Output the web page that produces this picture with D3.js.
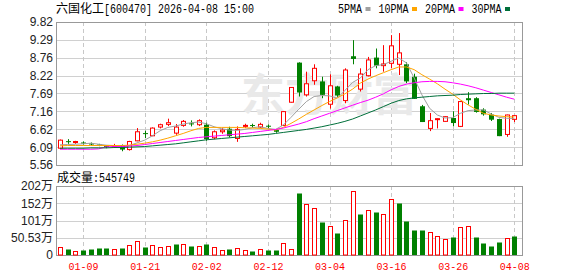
<!DOCTYPE html>
<html>
<head>
<meta charset="utf-8">
<script src="https://cdn.jsdelivr.net/npm/d3@7/dist/d3.min.js"></script>
<style>
  body { margin: 0; background: #fff; }
  svg text { font-family: "Liberation Sans", Arial, "Noto Sans CJK SC", sans-serif; }
</style>
</head>
<body>
<svg id="chart" width="578" height="276"></svg>
<script>

// daily data, 600470

var dates = ["01-06","01-07","01-08","01-09","01-12","01-13","01-14","01-15","01-16","01-19",
             "01-20","01-21","01-22","01-23","01-26","01-27","01-28","01-29","01-30","02-02",
             "02-03","02-04","02-05","02-06","02-09","02-10","02-11","02-12","02-13","02-24",
             "02-25","02-26","02-27","03-02","03-03","03-04","03-05","03-06","03-09","03-10",
             "03-11","03-12","03-13","03-16","03-17","03-18","03-19","03-20","03-23","03-24",
             "03-25","03-26","03-27","03-30","03-31","04-01","04-02","04-03","04-07","04-08"];

var open  = [6.06,6.27,6.23,6.23,6.20,6.17,6.13,6.11,6.15,6.02,
             6.28,6.51,6.43,6.69,6.77,6.51,6.74,6.80,6.76,6.76,
             6.37,6.55,6.64,6.35,6.72,6.75,6.69,6.73,6.60,6.74,
             7.43,8.61,7.65,8.07,8.05,7.37,7.90,7.48,8.80,7.82,
             8.22,8.76,8.52,8.59,8.56,8.56,8.19,7.31,6.65,6.91,
             6.86,6.96,6.71,7.55,7.55,7.21,7.06,6.93,6.47,6.92];

var high  = [6.32,6.33,6.28,6.26,6.23,6.19,6.15,6.19,6.17,6.28,
             6.66,6.58,6.68,6.79,6.94,6.78,6.90,6.89,6.92,6.82,
             6.59,6.66,6.70,6.71,6.79,6.79,6.82,6.77,6.62,7.17,
             7.88,8.62,8.34,8.56,8.19,8.26,7.92,8.44,9.28,8.44,
             8.78,9.03,9.13,9.43,9.49,8.62,8.28,7.35,7.11,6.95,
             7.01,7.16,7.47,7.73,7.58,7.25,7.11,6.94,7.06,7.05];

var low   = [6.04,6.19,6.19,6.17,6.15,6.12,6.06,6.08,5.97,5.99,
             6.27,6.36,6.42,6.65,6.72,6.46,6.70,6.71,6.72,6.28,
             6.33,6.49,6.38,6.25,6.66,6.67,6.66,6.66,6.52,6.72,
             7.42,7.60,7.60,7.95,7.55,7.24,7.59,7.40,8.56,7.75,
             8.20,8.44,8.34,8.44,8.24,8.00,7.53,6.84,6.57,6.65,
             6.85,6.71,6.69,7.36,7.12,7.03,6.87,6.42,6.40,6.84];

var close = [6.30,6.25,6.26,6.21,6.18,6.15,6.10,6.13,6.02,6.26,
             6.55,6.49,6.66,6.76,6.82,6.69,6.86,6.77,6.88,6.33,
             6.55,6.60,6.42,6.62,6.74,6.73,6.77,6.71,6.55,7.15,
             7.87,7.72,7.98,8.44,7.65,7.92,7.63,8.39,8.72,8.27,
             8.69,8.52,8.57,9.11,8.90,8.05,7.53,6.84,6.88,6.94,
             7.00,6.81,7.45,7.49,7.14,7.07,6.91,6.42,7.05,7.03];

// volume in 万 (10k)

var volume = [22.5,17.6,11.7,14.6,17.6,20.5,20.5,17.6,20.5,28.3,
              41.0,23.4,28.3,23.4,25.4,32.2,32.2,26.4,26.4,32.2,
              22.5,14.6,17.6,19.5,14.6,11.7,17.6,14.6,14.6,34.2,
              16.6,181.7,149.4,136.7,96.7,84.0,65.4,101.6,186.5,121.1,
              130.9,126.0,120.1,163.1,152.4,99.6,73.3,73.3,67.4,55.7,
              45.9,52.7,81.1,84.0,52.7,35.2,26.4,38.1,48.8,54.5749];

// moving averages as drawn

var ma5  = [6.16,6.17,6.18,6.19,6.21,6.18,6.15,6.14,6.12,6.14,
            6.22,6.30,6.43,6.58,6.68,6.72,6.78,6.82,6.84,6.79,
            6.70,6.64,6.60,6.59,6.62,6.67,6.70,6.65,6.62,6.75,
            6.98,7.22,7.45,7.60,7.63,7.62,7.55,7.78,8.02,8.15,
            8.40,8.52,8.55,8.65,8.75,8.60,8.15,7.65,7.25,7.05,
            6.96,6.97,7.10,7.18,7.20,7.20,7.08,6.98,6.95,6.95];

var ma10 = [6.13,6.14,6.14,6.14,6.14,6.14,6.14,6.14,6.14,6.15,
            6.18,6.21,6.25,6.30,6.36,6.43,6.50,6.58,6.65,6.68,
            6.68,6.68,6.68,6.68,6.67,6.66,6.65,6.63,6.60,6.68,
            6.80,6.93,7.07,7.20,7.33,7.45,7.56,7.68,7.82,8.00,
            8.12,8.22,8.31,8.40,8.48,8.48,8.40,8.25,8.12,7.98,
            7.82,7.67,7.50,7.35,7.22,7.10,7.05,7.02,7.00,6.99];

var ma20 = [6.03,6.03,6.03,6.03,6.03,6.04,6.10,6.11,6.11,6.12,
            6.14,6.17,6.20,6.23,6.26,6.29,6.32,6.35,6.38,6.40,
            6.42,6.44,6.46,6.48,6.50,6.53,6.56,6.59,6.62,6.66,
            6.72,6.78,6.85,6.94,7.02,7.10,7.18,7.26,7.34,7.42,
            7.49,7.58,7.68,7.80,7.90,7.97,8.01,8.04,8.05,8.05,
            8.04,8.01,7.97,7.92,7.86,7.79,7.72,7.65,7.58,7.52];

var ma30 = [6.06,6.06,6.06,6.06,6.07,6.07,6.07,6.08,6.08,6.09,
            6.10,6.11,6.13,6.15,6.17,6.19,6.22,6.25,6.28,6.31,
            6.33,6.35,6.37,6.39,6.41,6.43,6.45,6.47,6.50,6.53,
            6.56,6.59,6.62,6.66,6.70,6.75,6.80,6.86,6.93,7.02,
            7.11,7.20,7.30,7.40,7.48,7.53,7.56,7.58,7.60,7.62,
            7.63,7.64,7.66,7.67,7.68,7.69,7.69,7.70,7.70,7.70];

// axis ticks

var priceTicks = [5.56,6.09,6.62,7.16,7.69,8.22,8.76,9.29,9.82];
var volTicks   = [0,50.53,101.06,151.59,202.12];
var volLabels  = ["0","50.53万","101万","152万","202万"];
var dateTicks  = ["01-09","01-21","02-02","02-12","03-04","03-16","03-26","04-08"];

var maNames  = ["5PMA","10PMA","20PMA","30PMA"];
var maColors = ["#a0a0a0","#ffa500","#ff00ff","#006f3a"];

// globals

var left = 56, right = 522;
var red = "#ff0000", green = "#008000";
var mono = "\"Liberation Mono\", \"DejaVu Sans Mono\", monospace";
var cjk = "\"Noto Sans CJK SC\", sans-serif";

var svg = d3.select("#chart");

var x = d3.scalePoint().domain(dates).range([60, 514.3]);
var yPrice = d3.scaleLinear().domain([5.56, 9.82]).range([165, 22]);
var yVol = d3.scaleLinear().domain([0, 202.12]).range([255, 186]);

function px(d) { return Math.round(x(d)) + 0.5; }

// panels: grid + frame

drawPanel(yPrice, priceTicks, d3.format(".2f"), 22, 165);
drawPanel(yVol, volTicks, function (d, i) { return volLabels[i]; }, 186, 255);

function drawPanel(y, ticks, fmt, top, bottom)
{
  // horizontal grid

  svg.append("g")
    .selectAll("line")
    .data(ticks)
    .enter()
    .append("line")
    .attr("x1", left).attr("x2", right)
    .attr("y1", function (d) { return Math.round(y(d)) + 0.5; })
    .attr("y2", function (d) { return Math.round(y(d)) + 0.5; })
    .attr("stroke", "#d0d0d0");

  // vertical dashed grid

  svg.append("g")
    .selectAll("line")
    .data(dateTicks)
    .enter()
    .append("line")
    .attr("x1", px).attr("x2", px)
    .attr("y1", top).attr("y2", bottom)
    .attr("stroke", "#c8c8c8")
    .attr("stroke-dasharray", "4,3");

  // frame

  svg.append("rect")
    .attr("x", left + 0.5).attr("y", top + 0.5)
    .attr("width", right - left).attr("height", bottom - top)
    .attr("fill", "none")
    .attr("stroke", "#999");

  // labels

  var axis = svg.append("g")
    .attr("transform", "translate(" + left + ",0)")
    .call(d3.axisLeft(y).tickValues(ticks).tickFormat(fmt).tickSize(0).tickPadding(3));

  axis.select(".domain").remove();
  axis.selectAll("text")
    .attr("fill", "#222")
    .style("font-size", "12px")
    .style("font-family", "\"Liberation Sans\", Arial, \"Noto Sans CJK SC\", sans-serif");
}

// watermark

svg.append("text")
  .attr("x", 241).attr("y", 111)
  .attr("fill", "#e9e9e9")
  .style("font-family", cjk)
  .style("font-weight", "bold")
  .style("font-size", "44px")
  .text("东方财富");

// candles

var candle = svg.append("g")
  .selectAll("g")
  .data(dates)
  .enter()
  .append("g");

candle.append("line")
  .attr("x1", px).attr("x2", px)
  .attr("y1", function (d, i) { return yPrice(high[i]); })
  .attr("y2", function (d, i) { return yPrice(low[i]); })
  .attr("stroke", function (d, i) { return close[i] >= open[i] ? red : green; });

candle.append("rect")
  .attr("x", function (d, i) { return close[i] >= open[i] ? px(d) - 2 : px(d) - 2.5; })
  .attr("width", function (d, i) { return close[i] >= open[i] ? 4 : 5; })
  .attr("y", function (d, i) { return yPrice(Math.max(open[i], close[i])); })
  .attr("height", function (d, i) { return Math.max(1, yPrice(Math.min(open[i], close[i])) - yPrice(Math.max(open[i], close[i]))); })
  .attr("fill", function (d, i) { return close[i] >= open[i] ? "#fff" : green; })
  .attr("stroke", function (d, i) { return close[i] >= open[i] ? red : "none"; });

// moving average lines

[ma5, ma10, ma20, ma30].forEach(function (ma, k)
{
  svg.append("path")
    .datum(ma)
    .attr("fill", "none")
    .attr("stroke", maColors[k])
    .attr("stroke-width", 1)
    .attr("d", d3.line()
      .x(function (d, i) { return x(dates[i]); })
      .y(function (d) { return yPrice(d); }));
});

// volume bars, coloured against previous close

function volUp(i) { return i == 0 ? close[0] >= open[0] : close[i] >= close[i - 1]; }

svg.append("g")
  .selectAll("rect")
  .data(dates)
  .enter()
  .append("rect")
  .attr("x", function (d, i) { return volUp(i) ? px(d) - 2 : px(d) - 2.5; })
  .attr("width", function (d, i) { return volUp(i) ? 4 : 5; })
  .attr("y", function (d, i) { return Math.round(yVol(volume[i])) + 0.5; })
  .attr("height", function (d, i) { return 254.5 - Math.round(yVol(volume[i])); })
  .attr("fill", function (d, i) { return volUp(i) ? "#fff" : green; })
  .attr("stroke", function (d, i) { return volUp(i) ? red : "none"; });

// date axis

var dateAxis = svg.append("g")
  .attr("transform", "translate(0,255)")
  .call(d3.axisBottom(x).tickValues(dateTicks).tickSize(0).tickPadding(7));

dateAxis.select(".domain").remove();
dateAxis.selectAll("text")
  .attr("fill", red)
  .attr("textLength", 30)
  .attr("lengthAdjust", "spacingAndGlyphs")
  .style("font-family", mono)
  .style("font-size", "11px");

// title

svg.append("text")
  .attr("x", 56).attr("y", 13)
  .style("font-family", cjk).style("font-size", "12px")
  .text("六国化工");

svg.append("text")
  .attr("x", 104).attr("y", 13)
  .attr("textLength", 150).attr("lengthAdjust", "spacingAndGlyphs")
  .style("font-family", mono).style("font-size", "12px")
  .text("[600470] 2026-04-08 15:00");

// legend

var cursor = 338;
maNames.forEach(function (name, k)
{
  var w = name.length * 6;
  svg.append("text")
    .attr("x", cursor).attr("y", 12.5)
    .attr("textLength", w).attr("lengthAdjust", "spacingAndGlyphs")
    .style("font-family", mono).style("font-size", "12px")
    .text(name);
  svg.append("rect")
    .attr("x", cursor + w + 3.5).attr("y", 7)
    .attr("width", 5).attr("height", 4)
    .attr("fill", maColors[k]);
  cursor += w + 3.5 + 5 + 8;
});

// volume caption

svg.append("text")
  .attr("x", 57).attr("y", 182)
  .style("font-family", cjk).style("font-size", "12px")
  .text("成交量");

svg.append("text")
  .attr("x", 93).attr("y", 182)
  .attr("textLength", 42).attr("lengthAdjust", "spacingAndGlyphs")
  .style("font-family", mono).style("font-size", "12px")
  .text(":" + Math.round(volume[volume.length - 1] * 10000));

</script>
</body>
</html>
